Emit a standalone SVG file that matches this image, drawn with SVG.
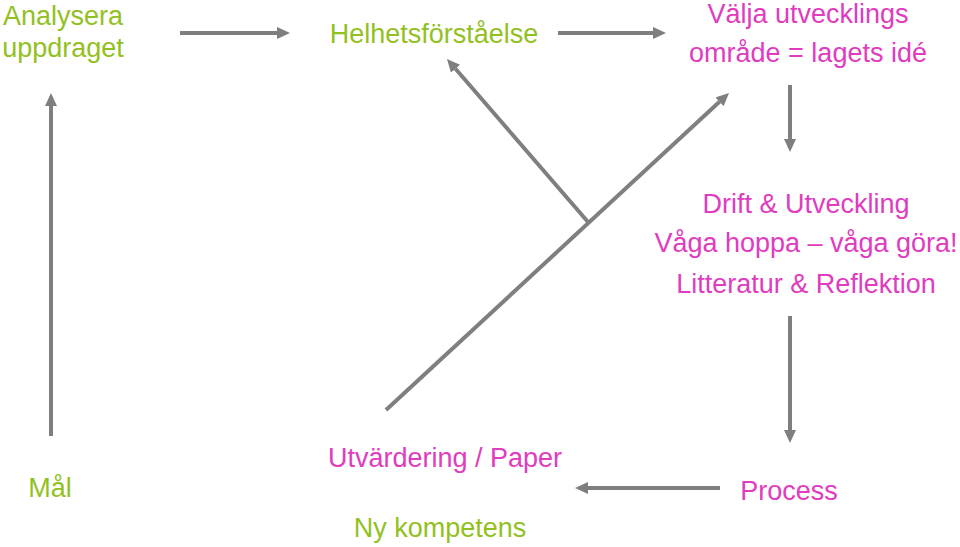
<svg xmlns="http://www.w3.org/2000/svg" width="960" height="547" viewBox="0 0 960 547">
<style>
text{font-family:"Liberation Sans",Arial,sans-serif;font-size:27px;text-anchor:middle}
.g{fill:#92c11f}
.p{fill:#e03cbf}
.c{stroke:#7f7f7f;stroke-width:4;fill:none}
</style>
<defs>
<marker id="ah" markerUnits="userSpaceOnUse" markerWidth="13" markerHeight="13" viewBox="0 0 13 12" refX="0" refY="6" orient="auto">
<path d="M0,0 L13,6 L0,12 z" fill="#7f7f7f"/>
</marker>
</defs>
<rect width="960" height="547" fill="#fff"/>
<g id="n-analysera"><text class="g" x="63" y="25">Analysera</text><text class="g" x="63" y="57">uppdraget</text></g>
<g id="n-helhet"><text class="g" x="434" y="43">Helhetsförståelse</text></g>
<g id="n-valja"><text class="p" x="808" y="23">Välja utvecklings</text><text class="p" x="808" y="62">område = lagets idé</text></g>
<g id="n-drift"><text class="p" x="806" y="213">Drift &amp; Utveckling</text><text class="p" x="806" y="252">Våga hoppa – våga göra!</text><text class="p" x="806" y="293">Litteratur &amp; Reflektion</text></g>
<g id="n-process"><text class="p" x="789" y="500">Process</text></g>
<g id="n-utv"><text class="p" x="445" y="467">Utvärdering / Paper</text></g>
<g id="n-ny"><text class="g" x="440" y="537">Ny kompetens</text></g>
<g id="n-mal"><text class="g" x="50" y="497">Mål</text></g>
<g id="connectors">
<line class="c" x1="180" y1="33" x2="277" y2="33" marker-end="url(#ah)"/>
<line class="c" x1="558" y1="33" x2="653" y2="33" marker-end="url(#ah)"/>
<line class="c" x1="790" y1="85" x2="790" y2="139" marker-end="url(#ah)"/>
<line class="c" x1="790" y1="316" x2="790" y2="430" marker-end="url(#ah)"/>
<line class="c" x1="720" y1="488" x2="588" y2="488" marker-end="url(#ah)"/>
<line class="c" x1="51" y1="436" x2="51" y2="106" marker-end="url(#ah)"/>
<line class="c" x1="386" y1="410" x2="719.5" y2="101.8" marker-end="url(#ah)"/>
<line class="c" x1="588" y1="222" x2="455.5" y2="68.8" marker-end="url(#ah)"/>
</g>
</svg>
